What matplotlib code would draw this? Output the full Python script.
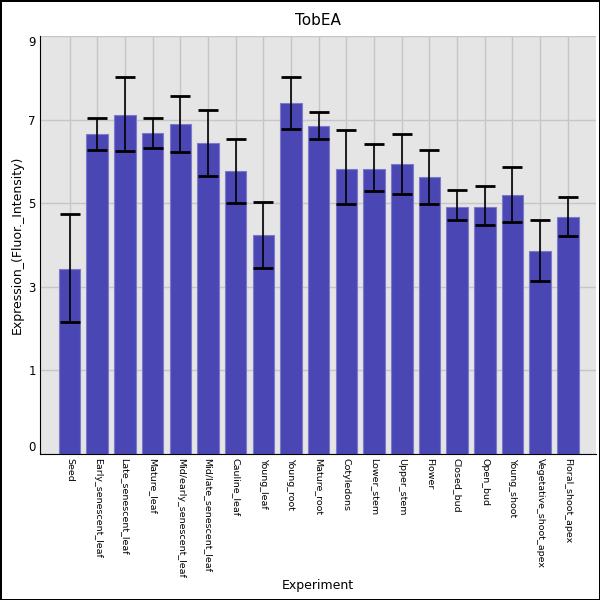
import numpy as np
import matplotlib
matplotlib.use("Agg")
import matplotlib.pyplot as plt

# values
experiments = ["Seed", "Early_senescent_leaf", "Late_senescent_leaf", "Mature_leaf",
               "Mid/early_senescent_leaf", "Mid/late_senescent_leaf", "Cauline_leaf",
               "Young_leaf", "Young_root", "Mature_root", "Cotyledons", "Lower_stem",
               "Upper_stem", "Flower", "Closed_bud", "Open_bud", "Young_shoot",
               "Vegetative_shoot_apex", "Floral_shoot_apex"]
expression = [3.42, 6.65, 7.12, 6.67, 6.89, 6.43, 5.76, 4.23, 7.39, 6.84,
              5.83, 5.83, 5.93, 5.62, 4.92, 4.92, 5.19, 3.85, 4.68]
err_low = [2.15, 6.27, 6.26, 6.33, 6.22, 5.66, 5.00, 3.46, 6.78, 6.54,
           4.97, 5.28, 5.21, 4.98, 4.60, 4.48, 4.54, 3.14, 4.22]
err_high = [4.73, 7.05, 8.03, 7.04, 7.56, 7.24, 6.54, 5.04, 8.03, 7.17,
            6.74, 6.41, 6.66, 6.27, 5.31, 5.42, 5.86, 4.59, 5.16]
ytick_values = [-1, 1, 3, 5, 7, 9]
ytick_labels = ["0", "1", "3", "5", "7", "9"]

plt.rcParams['font.family'] = ['DejaVu Sans']

fig = plt.figure(figsize=(6, 6), dpi=100)
fig.patch.set_edgecolor('black')
fig.patch.set_linewidth(2)
ax = fig.add_axes([40 / 600, 1 - 454 / 600, 556 / 600, 418 / 600])
ax.set_facecolor('#e5e5e5')

x = np.arange(len(experiments))
y = np.array(expression)
ymin, ymax = -1, 9
yerr = [y - np.array(err_low), np.array(err_high) - y]

ax.bar(x, y - ymin, bottom=ymin, width=0.78, color='#4a46b4',
       edgecolor='#7d7ac9', linewidth=0.8, zorder=2)
ax.errorbar(x, y, yerr=yerr, fmt='none', ecolor='black', elinewidth=1.2,
            capsize=7, capthick=2, zorder=3)

ax.set_xlim(-1.07, len(experiments) + 0.02)
ax.set_ylim(ymin, ymax)
ax.set_xticks(x)
ax.set_xticklabels(experiments, rotation=270, fontsize=6.8, va='top', ha='center')
ax.set_yticks(ytick_values)
ax.set_yticklabels(ytick_labels, fontsize=8.5)
ax.get_yticklabels()[0].set_va('bottom')
ax.get_yticklabels()[-1].set_va('top')
ax.tick_params(axis='both', length=0)
ax.tick_params(axis='y', pad=3)
ax.tick_params(axis='x', pad=3)

ax.grid(True, color='#c6c6c6', linewidth=1)
ax.set_axisbelow(True)
for s in ['top', 'right']:
    ax.spines[s].set_visible(False)
ax.spines['left'].set_color('black')
ax.spines['bottom'].set_color('black')

ax.set_title("TobEA", fontsize=11, pad=8)
ax.set_ylabel("Expression_(Fluor._Intensity)", fontsize=9)
ax.yaxis.set_label_coords((24 - 40) / 556, 0.5)
ax.set_xlabel("Experiment", fontsize=9)
ax.xaxis.set_label_coords(0.5, (454 - 585) / 418)
ax.xaxis.label.set_va('center')

fig.savefig("out.png", dpi=100, edgecolor=fig.get_edgecolor())
